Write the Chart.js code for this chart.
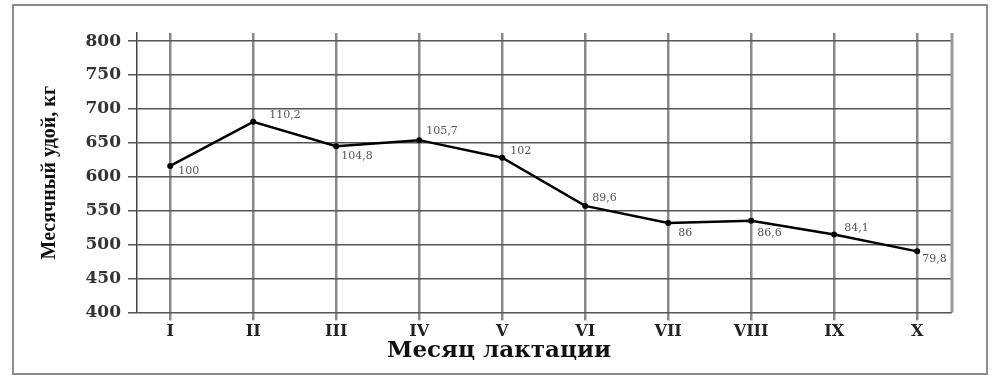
<!DOCTYPE html>
<html>
<head>
<meta charset="utf-8">
<script src="https://cdn.jsdelivr.net/npm/chart.js@4/dist/chart.umd.min.js"></script>
<style>
  body { margin: 0; background: #fff; }
  #wrap { position: relative; width: 998px; height: 381px; }
  #frame { position: absolute; left: 12px; top: 4px; width: 972px; height: 367px; border: 2px solid #8c8c8c; }
  #chart { position: absolute; left: 0; top: 0; }
</style>
</head>
<body>
<div id="wrap">
  <div id="frame"></div>
  <canvas id="chart" width="998" height="381"></canvas>
</div>
<script>
// months of lactation
const months = ["I", "II", "III", "IV", "V", "VI", "VII", "VIII", "IX", "X"];
// monthly milk yield, kg
const milkYield = [616, 681, 645, 654, 628, 557, 532, 535, 515, 490];
// value labels printed next to the points (% of month I)
const pointLabels = ["100", "110,2", "104,8", "105,7", "102", "89,6", "86", "86,6", "84,1", "79,8"];
const yTicks = [400, 450, 500, 550, 600, 650, 700, 750, 800];

// where each label sits relative to its point
const labelOffsets = [[8, 5], [16, -7], [5, 10], [7, -9], [8, -7], [7, -8], [10, 10], [6, 12], [10, -6], [5, 8]];

const serif = "'Liberation Serif', 'DejaVu Serif', serif";
const wideSerif = "'DejaVu Serif', serif";

const pointLabelPlugin = {
    id: "pointLabels",
    beforeDatasetsDraw(chart) {
        // right edge of the plot box
        const { ctx, chartArea } = chart;
        ctx.save();
        ctx.strokeStyle = "#9a9a9a";
        ctx.lineWidth = 3;
        ctx.beginPath();
        ctx.moveTo(chartArea.right, chartArea.top);
        ctx.lineTo(chartArea.right, chartArea.bottom);
        ctx.stroke();
        ctx.restore();
    },
    afterDatasetsDraw(chart) {
        const { ctx } = chart;
        const meta = chart.getDatasetMeta(0);
        ctx.save();
        ctx.font = "11px " + wideSerif;
        ctx.fillStyle = "#555";
        ctx.textAlign = "left";
        ctx.textBaseline = "middle";
        meta.data.forEach((pt, i) => {
            const off = labelOffsets[i];
            ctx.fillText(pointLabels[i], pt.x + off[0], pt.y + off[1]);
        });
        ctx.restore();
    }
};

const ctx = document.getElementById("chart").getContext("2d");
new Chart(ctx, {
    type: "line",
    data: {
        datasets: [{
            data: milkYield.map((v, i) => ({ x: i + 1, y: v })),
            borderColor: "#000",
            borderWidth: 2.5,
            backgroundColor: "#000",
            pointRadius: 3,
            pointBorderWidth: 0,
            tension: 0
        }]
    },
    options: {
        responsive: false,
        animation: false,
        events: [],
        layout: { padding: { top: 33, right: 0, left: 0, bottom: 0 } },
        plugins: {
            legend: { display: false },
            tooltip: { enabled: false },
            title: {
                display: true,
                position: "bottom",
                text: "Месяц лактации",
                color: "#111",
                font: { family: wideSerif, size: 23, weight: "bold" },
                padding: { top: 0, bottom: 16 }
            }
        },
        scales: {
            x: {
                type: "linear",
                min: 0.6,
                max: 10.42,
                afterBuildTicks: s => { s.ticks = months.map((m, i) => ({ value: i + 1 })); },
                afterFit: s => { s.height = 25; },
                ticks: {
                    callback: v => months[v - 1] || "",
                    color: "#222",
                    font: { family: wideSerif, size: 16, weight: "bold" },
                    padding: 2,
                    maxRotation: 0,
                    autoSkip: false
                },
                grid: { color: "#8a8a8a", lineWidth: 2.5, tickLength: 8 },
                border: { display: false }
            },
            y: {
                min: 400,
                max: 812,
                afterBuildTicks: s => { s.ticks = yTicks.map(v => ({ value: v })); },
                afterFit: s => { s.width = 137; },
                ticks: {
                    color: "#333",
                    font: { family: wideSerif, size: 17, weight: "bold" },
                    padding: 7
                },
                grid: { color: "#555", lineWidth: 1.5, tickLength: 9 },
                border: { color: "#444", width: 1.5 },
                title: {
                    display: true,
                    text: "Месячный удой, кг",
                    color: "#111",
                    font: { family: serif, size: 20, weight: "bold" },
                    padding: { top: 38, bottom: 0 }
                }
            },
            // empty spacer on the right so the bottom title stays centred on the page
            spacer: {
                position: "right",
                afterFit: s => { s.width = 46; },
                ticks: { display: false },
                grid: { display: false },
                border: { display: false }
            }
        }
    },
    plugins: [pointLabelPlugin]
});
</script>
</body>
</html>
